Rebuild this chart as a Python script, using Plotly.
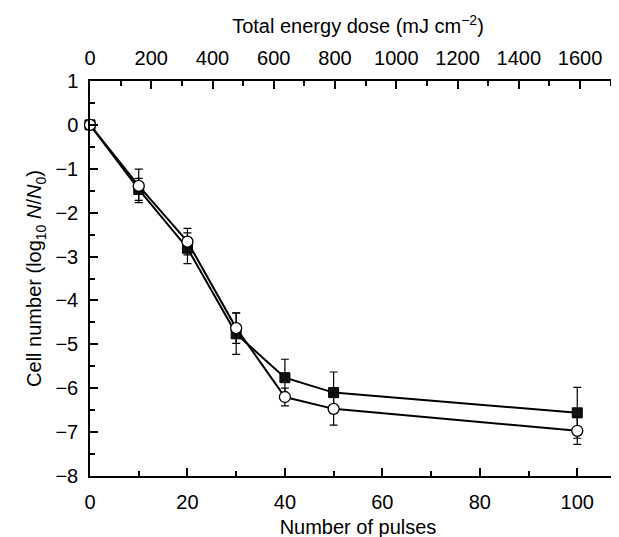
import plotly.graph_objects as go

pulses = [0, 10, 20, 30, 40, 50, 100]
square_vals = [0, -1.47, -2.81, -4.76, -5.76, -6.10, -6.56]
square_err = [0, 0.25, 0.35, 0.47, 0.42, 0.47, 0.58]
circle_vals = [0, -1.39, -2.66, -4.63, -6.20, -6.47, -6.97]
circle_err = [0, 0.38, 0.30, 0.35, 0.20, 0.37, 0.31]
energy_per_pulse = 16

x_ticks = [0, 20, 40, 60, 80, 100]
y_ticks = [1, 0, -1, -2, -3, -4, -5, -6, -7, -8]
y_tick_text = ["1", "0", "\u22121", "\u22122", "\u22123", "\u22124", "\u22125", "\u22126", "\u22127", "\u22128"]
energy_ticks = [0, 200, 400, 600, 800, 1000, 1200, 1400, 1600]

FONT = "Liberation Sans, Arial, Helvetica, sans-serif"

fig = go.Figure()
fig.add_trace(go.Scatter(
    x=pulses, y=square_vals, mode="lines+markers",
    line=dict(color="black", width=2),
    marker=dict(symbol="square", size=10, color="#111111", line=dict(color="black", width=1)),
    error_y=dict(type="data", array=square_err, color="black", thickness=1.2, width=4),
    showlegend=False, cliponaxis=False,
))
fig.add_trace(go.Scatter(
    x=pulses, y=circle_vals, mode="lines+markers",
    line=dict(color="black", width=2),
    marker=dict(symbol="circle", size=11, color="white", line=dict(color="black", width=1.3)),
    error_y=dict(type="data", array=circle_err, color="black", thickness=1.2, width=4),
    showlegend=False, cliponaxis=False,
))
# invisible trace on the top (energy) axis
fig.add_trace(go.Scatter(
    x=[p * energy_per_pulse for p in pulses], y=circle_vals, xaxis="x2", mode="none",
    showlegend=False, hoverinfo="skip",
))

axis_common = dict(
    showline=True, linecolor="black", linewidth=1.5, mirror=False,
    ticks="inside", ticklen=8, tickwidth=1.5, tickcolor="black",
    showgrid=False, zeroline=False,
    tickfont=dict(family=FONT, size=20, color="black"),
)

fig.update_layout(
    width=619, height=537,
    margin=dict(l=82, r=1, t=73, b=69),
    paper_bgcolor="white", plot_bgcolor="white",
    font=dict(family=FONT, size=20, color="black"),
    xaxis=dict(
        range=[0, 110], tickvals=x_ticks, ticklabelstandoff=7,
        minor=dict(dtick=10, ticks="inside", ticklen=5, tickwidth=1.5, tickcolor="black"),
        title=dict(text="Number of pulses", font=dict(family=FONT, size=20), standoff=8),
        **axis_common,
    ),
    xaxis2=dict(
        range=[0, 1750], tickvals=energy_ticks, overlaying="x", side="top",
        ticklabelstandoff=6,
        minor=dict(dtick=100, ticks="inside", ticklen=5, tickwidth=1.5, tickcolor="black"),
        title=dict(text="Total energy dose (mJ cm<sup>\u22122</sup>)", font=dict(family=FONT, size=20), standoff=8),
        **axis_common,
    ),
    yaxis=dict(
        range=[-8, 1], tickvals=y_ticks, ticktext=y_tick_text, ticklabelstandoff=6,
        minor=dict(dtick=0.5, ticks="inside", ticklen=5, tickwidth=1.5, tickcolor="black"),
        title=dict(text="Cell number (log<sub>10</sub> <i>N</i>/<i>N</i><sub>0</sub>)", font=dict(family=FONT, size=20), standoff=8),
        **axis_common,
    ),
)

fig.write_html("out.html")
